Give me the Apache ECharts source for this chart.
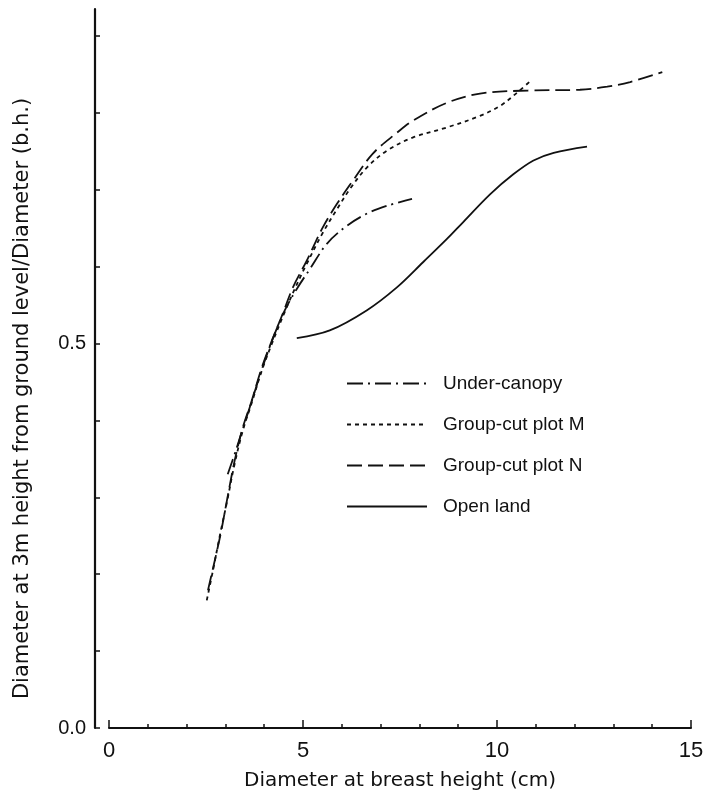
<!DOCTYPE html>
<html>
<head>
<meta charset="utf-8">
<script src="https://cdn.jsdelivr.net/npm/echarts@6/dist/echarts.min.js"></script>
<style>
  html, body { margin: 0; padding: 0; background: #fff; }
  #chart { width: 707px; height: 799px; }
</style>
</head>
<body>
<div id="chart"></div>
<script>
// Ratio of stem diameter at 3 m height to diameter at breast height,
// plotted against diameter at breast height, for four stand conditions.

const seriesNames = ['Under-canopy', 'Group-cut plot M', 'Group-cut plot N', 'Open land'];

// Under-canopy (dash-dot)
const underCanopyX = [3.06, 3.27, 3.48, 3.71, 3.97, 4.22, 4.53, 4.84, 5.18, 5.62, 6.13, 6.65, 7.16, 7.81];
const underCanopyY = [0.330, 0.361, 0.394, 0.430, 0.471, 0.506, 0.543, 0.571, 0.597, 0.630, 0.653, 0.669, 0.679, 0.688];

// Group-cut plot M (dotted)
const plotMX = [2.52, 2.68, 2.86, 3.04, 3.24, 3.45, 3.68, 3.94, 4.20, 4.48, 4.77, 5.10, 5.51, 5.88, 6.21, 6.65, 7.17, 7.84, 8.71, 9.56, 10.08, 10.49, 10.83];
const plotMY = [0.166, 0.205, 0.251, 0.294, 0.344, 0.387, 0.423, 0.465, 0.500, 0.535, 0.569, 0.604, 0.644, 0.675, 0.701, 0.729, 0.751, 0.768, 0.781, 0.796, 0.809, 0.825, 0.840];

// Group-cut plot N (long dashes)
const plotNX = [2.55, 2.70, 2.88, 3.04, 3.24, 3.45, 3.68, 3.94, 4.20, 4.48, 4.74, 5.10, 5.51, 5.88, 6.29, 6.80, 7.42, 7.84, 8.71, 9.56, 10.80, 12.14, 12.84, 13.43, 14.26];
const plotNY = [0.179, 0.212, 0.253, 0.296, 0.348, 0.391, 0.426, 0.469, 0.504, 0.539, 0.573, 0.608, 0.651, 0.682, 0.712, 0.747, 0.774, 0.790, 0.813, 0.825, 0.829, 0.830, 0.834, 0.840, 0.853];

// Open land (solid)
const openLandX = [4.84, 5.69, 6.64, 7.42, 8.10, 8.71, 9.13, 9.82, 10.42, 10.94, 11.46, 12.32];
const openLandY = [0.507, 0.517, 0.543, 0.573, 0.606, 0.636, 0.658, 0.694, 0.720, 0.738, 0.748, 0.756];

// Axis ticks and labels
const xLabelValues = [0, 5, 10, 15];
const yTickValues = [0, 0.1, 0.2, 0.3, 0.4, 0.5, 0.6, 0.7, 0.8, 0.9];
const yLabelValues = [0, 0.5];

const INK = '#111';
const FONT = 'Liberation Sans';
const TITLE_FONT = 'DejaVu Sans';

function pairs(xs, ys) {
  return xs.map((x, i) => [x, ys[i]]);
}

function lineSeries(name, xs, ys, dash) {
  return {
    name: name,
    type: 'line',
    data: pairs(xs, ys),
    smooth: 0.35,
    symbol: 'none',
    lineStyle: { color: INK, width: 1.8, type: dash },
    itemStyle: { color: INK },
    emphasis: { disabled: true },
    z: 3
  };
}

const chart = echarts.init(document.getElementById('chart'), null, { renderer: 'canvas' });

chart.setOption({
  animation: false,
  backgroundColor: '#fff',
  grid: { left: 109, right: 16, top: 9, bottom: 71, containLabel: false },
  legend: {
    orient: 'vertical',
    left: 346,
    top: 374,
    padding: 0,
    itemWidth: 80,
    itemHeight: 20,
    itemGap: 22,
    data: seriesNames,
    itemStyle: { opacity: 0 },
    textStyle: { color: INK, fontFamily: FONT, fontSize: 19, padding: [0, 0, 0, 11] },
    selectedMode: false
  },
  xAxis: {
    type: 'value',
    min: 0,
    max: 15,
    interval: 5,
    axisLine: { show: true, onZero: false, lineStyle: { color: INK, width: 2 } },
    axisTick: { show: true, inside: true, length: 8, lineStyle: { color: INK, width: 1.5 } },
    minorTick: { show: true, splitNumber: 5, length: 4, lineStyle: { color: INK, width: 1.5 } },
    splitLine: { show: false },
    axisLabel: {
      customValues: xLabelValues,
      color: INK, fontFamily: FONT, fontSize: 22, margin: 12
    },
    name: 'Diameter at breast height (cm)',
    nameLocation: 'middle',
    nameGap: 43,
    nameTextStyle: { color: INK, fontFamily: TITLE_FONT, fontSize: 20 }
  },
  yAxis: {
    type: 'value',
    min: 0,
    max: 0.935,
    offset: 14,
    axisLine: { show: true, onZero: false, lineStyle: { color: INK, width: 2.2 } },
    axisTick: { show: true, inside: true, length: 5, customValues: yTickValues, lineStyle: { color: INK, width: 1.5 } },
    splitLine: { show: false },
    axisLabel: {
      customValues: yLabelValues,
      formatter: v => v.toFixed(1),
      color: INK, fontFamily: FONT, fontSize: 20, margin: 9
    },
    name: 'Diameter at 3m height from ground level/Diameter (b.h.)',
    nameLocation: 'middle',
    nameRotate: 90,
    nameGap: 62,
    nameTextStyle: { color: INK, fontFamily: TITLE_FONT, fontSize: 21, padding: [0, 60, 0, 0] }
  },
  series: [
    lineSeries(seriesNames[0], underCanopyX, underCanopyY, [16, 5, 2, 5]),
    lineSeries(seriesNames[1], plotMX, plotMY, [4, 4]),
    lineSeries(seriesNames[2], plotNX, plotNY, [15, 6]),
    lineSeries(seriesNames[3], openLandX, openLandY, 'solid')
  ]
});
</script>
</body>
</html>
